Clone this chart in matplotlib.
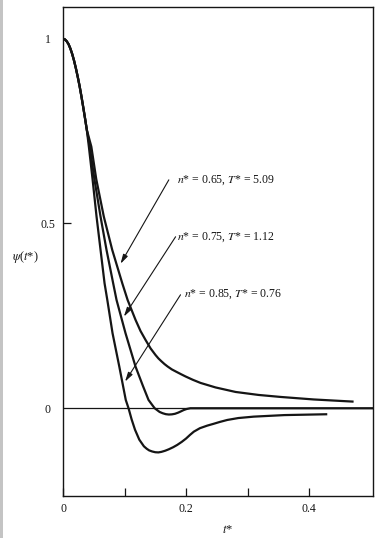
import matplotlib.pyplot as plt
from matplotlib.ticker import FixedLocator

plt.rcParams['font.family'] = ['Liberation Serif', 'DejaVu Serif']
plt.rcParams['mathtext.fontset'] = 'stix'

#%% values (t*, psi(t*))
# the three curves share the same start up to t* ~ 0.039
t_head = [0, 0.003, 0.006, 0.009, 0.012, 0.015, 0.018, 0.021, 0.024, 0.027,
          0.030, 0.033, 0.036, 0.0387]
psi_head = [1.0, 0.998, 0.993, 0.985, 0.973, 0.958, 0.940, 0.919, 0.896, 0.871,
            0.843, 0.813, 0.782, 0.753]

t_a = [0.046, 0.054, 0.0663, 0.080, 0.0963, 0.105, 0.1179, 0.126, 0.1341, 0.1423,
       0.1504, 0.155, 0.160, 0.165, 0.170, 0.177, 0.185, 0.192, 0.1992, 0.211,
       0.2236, 0.248, 0.2805, 0.3179, 0.3537, 0.4073, 0.4724]
psi_a = [0.708, 0.62, 0.5185, 0.4284, 0.3383, 0.293, 0.239, 0.209, 0.185, 0.162,
         0.144, 0.135, 0.127, 0.1195, 0.113, 0.105, 0.098, 0.092, 0.086, 0.077,
         0.0685, 0.0563, 0.0441, 0.036, 0.0306, 0.0238, 0.0179]

t_b = [0.0435, 0.051, 0.061, 0.0707, 0.0815, 0.087, 0.1016, 0.1179, 0.130, 0.139,
       0.1445, 0.149, 0.153, 0.157, 0.162, 0.167, 0.172, 0.177, 0.182, 0.187,
       0.191, 0.196, 0.201, 0.207, 0.504]
psi_b = [0.708, 0.62, 0.5185, 0.4284, 0.3383, 0.293, 0.203, 0.1126, 0.06, 0.0225,
         0.010, 0.0, -0.005, -0.010, -0.0135, -0.016, -0.017, -0.0165, -0.015, -0.012,
         -0.009, -0.005, -0.002, 0.0, 0.0]

t_c = [0.042, 0.048, 0.0545, 0.061, 0.0675, 0.072, 0.0805, 0.0915, 0.102, 0.1065,
       0.1115, 0.117, 0.124, 0.1315, 0.136, 0.140, 0.145, 0.150, 0.155, 0.160,
       0.166, 0.172, 0.179, 0.1856, 0.193, 0.200, 0.2065, 0.2127, 0.2225, 0.2345,
       0.245, 0.255, 0.267, 0.285, 0.31, 0.36, 0.4296]
psi_c = [0.708, 0.62, 0.5185, 0.4284, 0.3383, 0.293, 0.203, 0.1126, 0.0225, 0.0,
         -0.03, -0.058, -0.085, -0.103, -0.1095, -0.114, -0.117, -0.119, -0.1195, -0.118,
         -0.115, -0.111, -0.1055, -0.0993, -0.091, -0.082, -0.072, -0.0633, -0.054, -0.047,
         -0.042, -0.037, -0.0317, -0.0265, -0.0227, -0.0185, -0.0162]

labels = [r'$n$* = 0.65, $T$* = 5.09',
          r'$n$* = 0.75, $T$* = 1.12',
          r'$n$* = 0.85, $T$* = 0.76']

x_major = [0, 0.2, 0.4]
x_minor = [0.1, 0.3]
y_ticks = [0, 0.5, 1]

#%%
fig = plt.figure(figsize=(3.82, 5.38), dpi=100)
ax = fig.add_axes([0.165, 0.0772, 0.8115, 0.910])
ink = '#151515'

ax.axhline(0, color=ink, lw=0.9)
for t, p in [(t_a, psi_a), (t_b, psi_b), (t_c, psi_c)]:
    ax.plot(t_head + t, psi_head + p, color=ink, lw=1.6,
            solid_joinstyle='round', solid_capstyle='butt')

# labels with arrows pointing at each curve
heads = [(0.0935, 0.391), (0.0989, 0.248), (0.1008, 0.072)]
tails = [(0.172, 0.618), (0.183, 0.464), (0.191, 0.307)]
text_pos = [(0.186, 0.618), (0.186, 0.4628), (0.196, 0.3085)]
for lab, h, tl, tp in zip(labels, heads, tails, text_pos):
    ax.annotate('', xy=h, xytext=tl,
                arrowprops=dict(arrowstyle='-|>,head_length=0.55,head_width=0.15',
                                color=ink, lw=0.8, shrinkA=0, shrinkB=0))
    ax.text(tp[0], tp[1], lab, fontsize=8.5, ha='left', va='center', color=ink)

ax.set_xlim(0, 0.504)
ax.set_ylim(-0.2387, 1.086)
ax.xaxis.set_major_locator(FixedLocator(x_major))
ax.xaxis.set_minor_locator(FixedLocator(x_minor))
ax.set_xticklabels(['0', '0.2', '0.4'])
ax.set_yticks(y_ticks)
ax.set_yticklabels(['0', '0.5', '1'])
ax.tick_params(axis='both', which='both', direction='in', length=6, width=0.9,
               color=ink, labelsize=8.5, labelcolor=ink)
ax.tick_params(axis='x', pad=5)
ax.tick_params(axis='y', pad=11)
# no visible tick marks at psi = 0 and psi = 1, only the labels
yt = ax.yaxis.get_major_ticks()
yt[0].tick1line.set_visible(False)
yt[2].tick1line.set_visible(False)
for lab in ax.get_yticklabels():
    lab.set_horizontalalignment('center')
for s in ax.spines.values():
    s.set_linewidth(1.0)
    s.set_color(ink)

ax.set_ylabel(r'$\psi$($t$*)', rotation=0, fontsize=9, color=ink, va='center', ha='center')
ax.yaxis.set_label_coords(-0.12, 0.49)
ax.set_xlabel(r'$t$*', fontsize=9, color=ink, va='center')
ax.xaxis.set_label_coords(0.53, -0.068)

# grey scan edge on the left
fig.add_artist(plt.Rectangle((0, 0), 3 / 382, 1, transform=fig.transFigure,
                             color='#c4c4c4', lw=0))

fig.savefig('out.png', dpi=100)
plt.close(fig)
